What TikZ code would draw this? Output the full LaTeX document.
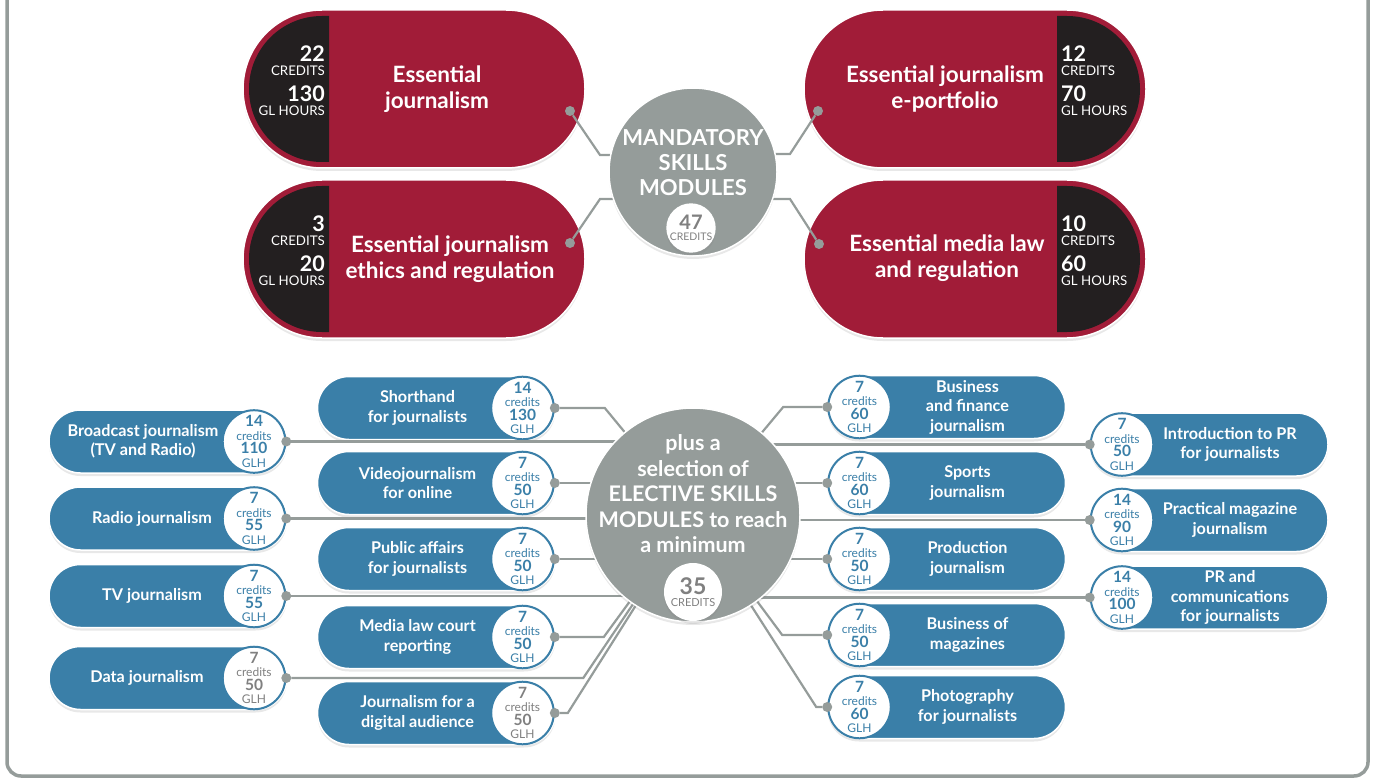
\documentclass[tikz,border=0pt]{standalone}
\usepackage{fontspec}
\setmainfont{Lato}
\usepackage{tikz}
\usetikzlibrary{shapes.misc,shadows}

\definecolor{modred}{RGB}{161,28,56}
\definecolor{moddark}{RGB}{35,31,32}
\definecolor{modblue}{RGB}{58,127,168}
\definecolor{linkgray}{RGB}{149,156,154}
\definecolor{numgray}{RGB}{128,128,128}

% credits and hours in the round badges and the dark caps
\newcommand{\credgl}[2]{{\bfseries\fontsize{15.5}{13.5}\selectfont #1}\\credits\\{\bfseries\fontsize{15.5}{13.5}\selectfont #2}\\GLH}
\newcommand{\credhrs}[2]{{\bfseries\fontsize{21.5}{14}\selectfont #1}\\CREDITS\\[9pt]{\bfseries\fontsize{21.5}{14}\selectfont #2}\\GL HOURS}

\tikzset{
  softshadow/.style={drop shadow={opacity=0.18, shadow xshift=0pt, shadow yshift=-3pt}},
  redpill/.style={rounded rectangle, fill=modred, draw=white, line width=1.5, minimum width=342, minimum height=158, inner sep=0, softshadow},
  bluepill/.style={rounded rectangle, fill=modblue, draw=white, line width=1.5, minimum width=238, minimum height=63, inner sep=0, softshadow},
  badge/.style={circle, fill=white, draw=modblue, line width=2, minimum size=60, inner sep=0, align=center, font=\fontsize{12}{13.5}\selectfont},
  dot/.style={circle, fill=linkgray, minimum size=10, inner sep=0},
  link/.style={linkgray, line width=2.2},
  redtext/.style={text=white, align=center, font=\bfseries\fontsize{22.5}{26}\selectfont},
  pilltext/.style={text=white, align=center, font=\bfseries\fontsize{16.2}{19.5}\selectfont},
  hrs/.style={text=white, inner sep=0, font=\fontsize{13.3}{14}\selectfont},
  bigcirc/.style={circle, fill=linkgray, draw=white, line width=1.5, inner sep=0, softshadow},
  circtext/.style={text=white, align=center},
  credcirc/.style={circle, fill=white, inner sep=0, text=numgray, align=center, font=\fontsize{10.5}{11}\selectfont, softshadow},
  frame/.style={linkgray, line width=3.5, rounded corners=14pt}
}

\begin{document}
\begin{tikzpicture}[x=1pt, y=-1pt]
  \useasboundingbox (0,0) rectangle (1376,778);
  \draw[frame] (7,-10) -- (7,776) -- (1368,776) -- (1368,-10);

  \coordinate (mc) at (693,172);
  \coordinate (ec) at (693,515);

  % mandatory modules
  \node[redpill] (ej) at (414,89) {};
  \node[redpill] (eth) at (414,259) {};
  \node[redpill] (ep) at (975,89) {};
  \node[redpill] (mlr) at (975,259) {};
  \foreach \yy in {89,259} {
    \fill[moddark] (329,\yy-73) -- (322,\yy-73) arc[start angle=270, end angle=90, radius=73] -- (329,\yy+73) -- cycle;
    \fill[moddark] (1057,\yy-73) -- (1067,\yy-73) arc[start angle=-90, end angle=90, radius=73] -- (1057,\yy+73) -- cycle;
  }
  \node[redtext] (ej-t) at (437,89) {Essential\\journalism};
  \node[redtext] (eth-t) at (450,259) {Essential journalism\\ethics and regulation};
  \node[redtext] (ep-t) at (945,89) {Essential journalism\\e-portfolio};
  \node[redtext] (mlr-t) at (947,258) {Essential media law\\and regulation};
  \node[hrs, align=right, anchor=east] (ej-h) at (325,81) {\credhrs{22}{130}};
  \node[hrs, align=right, anchor=east] (eth-h) at (325,251) {\credhrs{3}{20}};
  \node[hrs, align=left, anchor=west] (ep-h) at (1061,81) {\credhrs{12}{70}};
  \node[hrs, align=left, anchor=west] (mlr-h) at (1061,251) {\credhrs{10}{60}};
  \node[dot] (ej-d) at (570,111) {};
  \node[dot] (eth-d) at (570,243) {};
  \node[dot] (ep-d) at (818,111) {};
  \node[dot] (mlr-d) at (819,244) {};

  % elective modules, left side
  \foreach \nm/\yy/\txt/\cd/\gh/\col in {
      sh/408/{Shorthand\\for journalists}/14/130/modblue,
      vj/483/{Videojournalism\\for online}/7/50/modblue,
      pa/559/{Public affairs\\for journalists}/7/50/modblue,
      ml/637/{Media law court\\reporting}/7/50/modblue,
      jd/713/{Journalism for a\\digital audience}/7/50/numgray} {
    \node[bluepill] (\nm) at (436.5,\yy) {};
    \node[pilltext] (\nm-t) at ([xshift=-19]\nm.center) {\txt};
    \node[badge, text=\col] (\nm-b) at ([xshift=86]\nm.center) {\credgl{\cd}{\gh}};
    \node[dot] (\nm-d) at (\nm-b.east) {};
  }
  \foreach \nm/\yy/\dx/\txt/\cd/\gh/\col in {
      bc/441.5/-25/{Broadcast journalism\\(TV and Radio)}/14/110/modblue,
      rj/518.5/-16/{Radio journalism}/7/55/modblue,
      tv/596/-16/{TV journalism}/7/55/modblue,
      dj/678/-21/{Data journalism}/7/50/numgray} {
    \node[bluepill] (\nm) at (168,\yy) {};
    \node[pilltext] (\nm-t) at ([xshift=\dx]\nm.center) {\txt};
    \node[badge, text=\col] (\nm-b) at ([xshift=86]\nm.center) {\credgl{\cd}{\gh}};
    \node[dot] (\nm-d) at (\nm-b.east) {};
  }

  % elective modules, right side
  \foreach \nm/\yy/\txt/\cd/\gh in {
      bf/407/{Business\\and finance\\journalism}/7/60,
      sp/483/{Sports\\journalism}/7/60,
      pj/559/{Production\\journalism}/7/50,
      bm/635/{Business of\\magazines}/7/50,
      ph/707/{Photography\\for journalists}/7/60} {
    \node[bluepill] (\nm) at (946.5,\yy) {};
    \node[pilltext] (\nm-t) at ([xshift=21]\nm.center) {\txt};
    \node[badge, text=modblue] (\nm-b) at ([xshift=-87]\nm.center) {\credgl{\cd}{\gh}};
    \node[dot] (\nm-d) at (\nm-b.west) {};
  }
  \foreach \nm/\yy/\txt/\cd/\gh in {
      ip/444.5/{Introduction to PR\\for journalists}/7/50,
      pm/520/{Practical magazine\\journalism}/14/90,
      pc/597.5/{PR and\\communications\\for journalists}/14/100} {
    \node[bluepill] (\nm) at (1209,\yy) {};
    \node[pilltext] (\nm-t) at ([xshift=21]\nm.center) {\txt};
    \node[badge, text=modblue] (\nm-b) at ([xshift=-87]\nm.center) {\credgl{\cd}{\gh}};
    \node[dot] (\nm-d) at (\nm-b.west) {};
  }

  % connectors
  \draw[link] (ej-d) -- ++(30,44) -| (mc);
  \draw[link] (eth-d) -- ++(30,-44) -| (mc);
  \draw[link] (ep-d) -- ++(-28,43) -| (mc);
  \draw[link] (mlr-d) -- ++(-29,-45) -| (mc);

  \draw[link] (sh-d) -- ++(50,0) -- (ec);
  \draw[link] (ml-d) -- ++(49,0) -- (ec);
  \draw[link] (jd-d) -- ++(13,0) -- (ec);
  \draw[link] (dj-d) -- ++(297,0) -- (ec);
  \draw[link] (bf-d) -- ++(-44,0) -- (ec);
  \draw[link] (bm-d) -- ++(-45,0) -- (ec);
  \draw[link] (ph-d) -- ++(-11,0) -- (ec);
  \foreach \nm in {vj,pa,bc,rj,tv,sp,pj,ip,pm,pc}
    \draw[link] (\nm-d) -- (\nm-d -| ec);

  % hubs
  \node[bigcirc, minimum size=168] (mand) at (mc) {};
  \node[circtext, font=\bfseries\fontsize{22}{25}\selectfont] (mand-t) at (693,163) {MANDATORY\\SKILLS\\MODULES};
  \node[credcirc, minimum size=47] (mand-c) at (691,228) {{\bfseries\fontsize{20}{16}\selectfont 47}\\CREDITS};

  \node[bigcirc, minimum size=214] (elec) at (ec) {};
  \node[circtext, font=\bfseries\fontsize{21.5}{25.5}\selectfont] (elec-t) at (693,494) {plus a\\selection of\\ELECTIVE SKILLS\\MODULES to reach\\a minimum};
  \node[credcirc, minimum size=58, font=\fontsize{11}{12}\selectfont] (elec-c) at (693,592) {{\bfseries\fontsize{23}{19}\selectfont 35}\\CREDITS};
\end{tikzpicture}
\end{document}
